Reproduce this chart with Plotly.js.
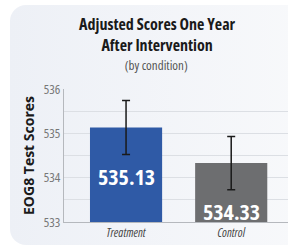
<!DOCTYPE html>
<html><head><meta charset="utf-8">
<script src="https://cdn.plot.ly/plotly-3.0.1.min.js"></script>
<style>
html,body{margin:0;padding:0;background:#fff;width:288px;height:252px;overflow:hidden;}
#card{position:absolute;left:10px;top:5px;width:300px;height:240px;border-radius:16px;background:linear-gradient(to right,#edf0f6,#f8f9fb);}
#chart{position:absolute;left:0;top:0;width:288px;height:252px;}
#chart svg text{font-stretch:75% !important;}
#chart svg text.ytitle{font-stretch:100% !important;}
</style></head><body>
<div id="card"></div>
<div id="chart"></div>
<script>
const categories = ["Treatment", "Control"];
const scores = [535.13, 534.33];
const errors = [0.61, 0.6];
const labels = ["535.13", "534.33"];
const colors = ["#2f5aa6", "#6d6e70"];
const yTicks = [533, 534, 535, 536];
const titleLines = ["Adjusted Scores One Year", "After Intervention"];
const subtitle = "(by condition)";

const F = '"Open Sans", sans-serif';
const gridVals = [];
for (let v = yTicks[0]; v <= yTicks[yTicks.length - 1] + 1e-9; v += 0.5) gridVals.push(v);

const trace = {
  type: 'bar', x: categories, y: scores, width: 0.686,
  marker: {color: colors},
  error_y: {type: 'data', array: errors, visible: true, color: '#1a1a1a', thickness: 1.5, width: 4},
  hoverinfo: 'none'
};

const annotations = categories.map((c, i) => ({
  x: c, y: scores[i], xref: 'x', yref: 'y', text: '<b>' + labels[i] + '</b>',
  showarrow: false, yanchor: 'middle', yshift: -48,
  font: {family: F, size: 22, color: '#ffffff'}
}));
annotations.push({
  xref: 'paper', yref: 'paper', x: 0.413, y: 1, yshift: 55, yanchor: 'middle',
  text: titleLines.map(t => '<b>' + t + '</b>').join('<br>'), showarrow: false,
  font: {family: F, size: 16, color: '#1a1a1a'}
});
annotations.push({
  xref: 'paper', yref: 'paper', x: 0.413, y: 1, yshift: 24, yanchor: 'middle',
  text: subtitle, showarrow: false,
  font: {family: F, size: 13, color: '#555555'}
});

const layout = {
  width: 288, height: 252,
  margin: {l: 64, r: 0, t: 89, b: 30},
  paper_bgcolor: 'rgba(0,0,0,0)', plot_bgcolor: 'rgba(0,0,0,0)',
  showlegend: false,
  xaxis: {
    range: [-0.59, 1.54], showgrid: false, zeroline: false,
    showline: true, linecolor: '#b5b8bd', linewidth: 1, ticks: '',
    tickfont: {family: F, size: 12, color: '#444444', style: 'italic'},
    fixedrange: true
  },
  yaxis: {
    range: [533, 536], tickvals: gridVals,
    ticktext: gridVals.map(v => yTicks.includes(v) ? String(v) : ''),
    showgrid: true, gridcolor: '#dcdfe4', gridwidth: 1,
    zeroline: false, showline: true, linecolor: '#b5b8bd', linewidth: 1,
    ticks: '',
    tickfont: {family: F, size: 13, color: '#777777'},
    title: {text: '<b>EOG8 Test Scores</b>', standoff: 0, font: {family: F, size: 14, color: '#1a1a1a'}},
    fixedrange: true
  },
  annotations: annotations
};

Plotly.newPlot('chart', [trace], layout, {displayModeBar: false, staticPlot: true});
</script>
</body></html>
